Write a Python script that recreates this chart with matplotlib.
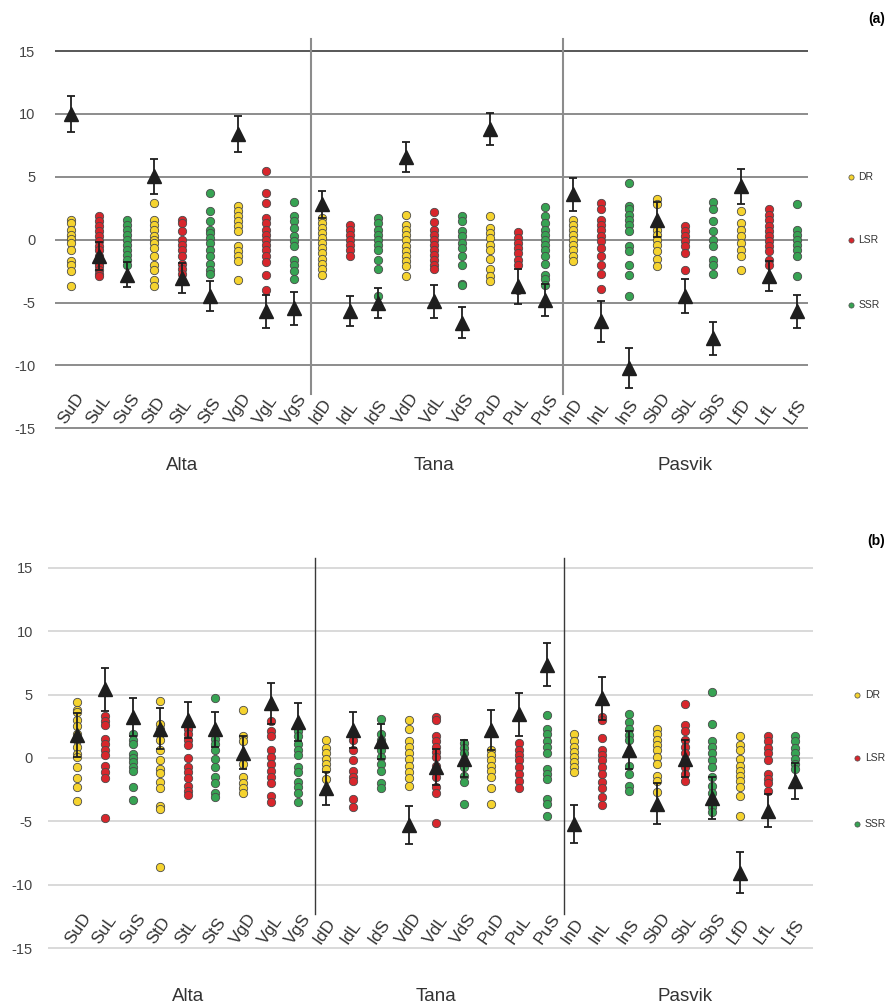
import matplotlib
matplotlib.use("Agg")
import matplotlib.pyplot as plt
import matplotlib.transforms as mtransforms

plt.rcParams['font.family'] = ['Liberation Sans', 'DejaVu Sans']
plt.rcParams['axes.unicode_minus'] = False

# --- data -------------------------------------------------------------
labels = ["SuD", "SuL", "SuS", "StD", "StL", "StS", "VgD", "VgL", "VgS",
          "IdD", "IdL", "IdS", "VdD", "VdL", "VdS", "PuD", "PuL", "PuS",
          "InD", "InL", "InS", "SbD", "SbL", "SbS", "LfD", "LfL", "LfS"]
groups = ["Alta", "Tana", "Pasvik"]
group_size = 9

series_names = ["DR", "LSR", "SSR"]
series_colors = ["#f5d32f", "#d8262c", "#37a353"]
series_key = {"D": 0, "L": 1, "S": 2}

a_dots = [
    [1.6, 1.3, 0.8, 0.4, 0.05, -0.3, -0.8, -1.7, -2.0, -2.5, -3.7],
    [1.9, 1.5, 1.1, 0.7, 0.3, -0.1, -0.5, -0.8, -1.3, -1.9, -2.1, -2.4, -2.7, -2.9],
    [1.6, 1.2, 0.8, 0.4, 0.0, -0.4, -0.8, -1.2, -1.6, -2.0],
    [2.9, 1.6, 1.2, 0.8, 0.3, 0.0, -0.3, -0.7, -1.3, -2.0, -2.4, -3.2, -3.7],
    [1.6, 1.3, 0.7, 0.0, -0.4, -0.8, -1.3, -1.9, -2.3, -2.7],
    [3.7, 2.3, 1.5, 0.8, 0.5, 0.1, -0.3, -0.8, -1.3, -1.9, -2.4, -2.7],
    [2.7, 2.3, 1.9, 1.5, 1.1, 0.7, -0.5, -0.9, -1.3, -1.7, -3.2],
    [5.5, 3.7, 2.9, 1.7, 1.3, 0.8, 0.4, 0.0, -0.4, -0.8, -1.3, -1.8, -2.8, -4.0],
    [3.0, 1.9, 1.5, 0.9, 0.3, -0.1, -0.5, -1.6, -2.0, -2.5, -3.1],
    [1.7, 1.3, 0.9, 0.5, 0.1, -0.3, -0.7, -1.1, -1.5, -1.9, -2.3, -2.8],
    [1.2, 0.8, 0.4, 0.0, -0.4, -0.8, -1.3],
    [1.7, 1.3, 0.8, 0.4, 0.0, -0.4, -0.8, -1.6, -2.3, -4.5],
    [2.0, 1.2, 0.8, 0.4, 0.0, -0.5, -0.9, -1.3, -1.7, -2.1, -2.9],
    [2.2, 1.4, 0.8, 0.4, 0.0, -0.4, -0.8, -1.2, -1.6, -2.0, -2.3],
    [1.9, 1.5, 0.7, 0.3, -0.3, -0.7, -1.3, -2.0, -3.5, -3.6],
    [1.9, 0.9, 0.5, 0.1, -0.4, -0.8, -1.5, -2.3, -2.9, -3.3],
    [0.6, 0.1, -0.3, -0.7, -1.1, -1.6, -2.0, -4.0],
    [2.6, 1.9, 1.3, 0.8, 0.4, 0.0, -0.4, -0.8, -1.3, -1.9, -2.8, -3.1, -3.6],
    [1.6, 1.2, 0.8, 0.4, 0.0, -0.4, -0.8, -1.3, -1.7],
    [2.9, 2.4, 1.6, 1.2, 0.8, 0.3, -0.1, -0.7, -1.3, -2.0, -2.7, -3.9],
    [4.5, 2.7, 2.4, 2.0, 1.6, 1.2, 0.7, -0.5, -0.9, -2.0, -2.8, -4.5],
    [3.2, 2.8, 0.8, 0.4, 0.0, -0.4, -0.9, -1.5, -2.1],
    [1.1, 0.7, 0.3, -0.1, -0.5, -1.1, -2.4],
    [3.0, 2.4, 1.5, 0.7, 0.0, -0.5, -1.6, -2.0, -2.7],
    [2.3, 1.3, 0.8, 0.3, -0.3, -0.8, -1.3, -2.4],
    [2.4, 2.0, 1.6, 1.1, 0.7, 0.3, -0.1, -0.5, -0.9, -1.6, -2.0],
    [2.8, 0.8, 0.4, 0.0, -0.4, -0.8, -1.3, -2.9],
]
a_mean = [10.0, -1.3, -2.8, 5.05, -3.05, -4.5, 8.4, -5.7, -5.45,
          2.8, -5.7, -5.05, 6.6, -4.9, -6.6, 8.8, -3.7, -4.8,
          3.6, -6.5, -10.2, 1.6, -4.5, -7.85, 4.25, -2.9, -5.7]
a_err = [1.4, 1.1, 1.0, 1.4, 1.2, 1.2, 1.4, 1.3, 1.3,
         1.1, 1.2, 1.2, 1.2, 1.3, 1.25, 1.25, 1.4, 1.3,
         1.3, 1.6, 1.6, 1.4, 1.35, 1.3, 1.4, 1.2, 1.3]

b_dots = [
    [4.4, 3.8, 3.6, 3.0, 2.5, 1.9, 1.4, 0.9, 0.3, 0.1, -0.7, -1.6, -2.3, -3.4],
    [3.3, 2.9, 2.6, 1.5, 1.1, 0.6, 0.2, -0.6, -1.1, -1.6, -4.7],
    [1.9, 1.4, 1.1, 0.3, 0.0, -0.3, -0.7, -1.0, -2.3, -3.3],
    [4.5, 2.7, 2.3, 1.9, 1.4, 0.6, -0.2, -0.9, -1.2, -1.9, -2.4, -3.8, -4.0, -8.6],
    [2.3, 1.9, 1.4, 1.0, 0.0, -0.7, -1.1, -1.6, -2.2, -2.6, -2.9],
    [4.7, 1.5, 1.1, 0.6, -0.05, -0.7, -1.5, -2.0, -2.8, -3.1],
    [3.8, 1.7, 1.3, -0.45, -1.5, -2.0, -2.4, -2.8],
    [2.9, 2.1, 1.7, 0.6, 0.1, -0.45, -1.0, -1.5, -2.0, -3.0, -3.5],
    [2.1, 1.7, 1.1, 0.6, 0.2, -0.7, -1.1, -1.9, -2.3, -2.8, -3.5],
    [1.4, 0.75, 0.35, -0.05, -0.45, -0.85, -1.65, -2.6],
    [1.4, 0.6, -0.2, -1.0, -1.5, -1.8, -3.2, -3.9],
    [3.1, 1.9, 1.4, 0.6, 0.1, -0.45, -1.0, -2.0, -2.4],
    [3.0, 2.25, 1.3, 0.9, 0.35, -0.05, -0.6, -1.1, -1.6, -2.2],
    [3.25, 3.0, 1.7, 1.3, 0.9, 0.5, 0.1, -0.6, -1.5, -2.3, -2.8, -5.1],
    [1.2, 0.75, 0.35, -0.7, -1.4, -1.9, -3.6],
    [0.6, 0.2, -0.2, -0.6, -1.0, -1.5, -2.4, -3.6],
    [1.15, 0.6, 0.2, -0.2, -0.7, -1.25, -1.8, -2.4],
    [3.4, 2.3, 1.9, 1.3, 0.9, 0.35, -0.85, -1.25, -1.65, -3.2, -3.6, -4.6],
    [1.9, 1.3, 0.9, 0.5, 0.1, -0.3, -0.7, -1.1],
    [3.25, 3.0, 1.6, 0.6, 0.2, -0.2, -0.7, -1.25, -1.9, -2.4, -3.1, -3.75],
    [3.5, 2.85, 2.3, 1.8, 1.4, 0.35, -0.6, -1.25, -2.2, -2.6],
    [2.3, 1.9, 1.4, 1.0, 0.6, 0.1, -0.45, -1.4, -1.8, -2.7],
    [4.25, 2.6, 2.1, 1.4, 0.9, 0.35, -0.2, -0.7, -1.25, -1.8],
    [5.2, 2.7, 1.3, 0.9, 0.35, -0.2, -0.7, -1.5, -2.2, -2.8, -3.9, -4.3],
    [1.7, 1.0, 0.6, -0.05, -0.6, -1.0, -1.4, -1.8, -2.3, -3.0, -4.55],
    [1.7, 1.3, 0.75, 0.35, -0.2, -1.25, -1.65, -2.0, -2.6],
    [1.7, 1.3, 0.75, 0.35, -0.05, -0.45, -0.85],
]
b_mean = [1.8, 5.4, 3.25, 2.3, 3.0, 2.25, 0.4, 4.3, 2.85,
          -2.4, 2.2, 1.3, -5.3, -0.7, -0.05, 2.2, 3.45, 7.35,
          -5.2, 4.7, 0.6, -3.6, -0.05, -3.15, -9.05, -4.15, -1.8]
b_err = [1.75, 1.7, 1.5, 1.6, 1.4, 1.35, 1.3, 1.6, 1.5,
         1.3, 1.4, 1.4, 1.5, 1.4, 1.45, 1.55, 1.7, 1.7,
         1.5, 1.7, 1.5, 1.6, 1.45, 1.65, 1.6, 1.3, 1.4]

yticks = [-15, -10, -5, 0, 5, 10, 15]


def draw_panel(ax, dots, means, errs, grid_color, top_color, sep_color, sep_lw,
               sep_top, ytick_pad, group_y, legend_x):
    ax.set_yticks(yticks)
    ax.set_xticks([])
    for s in ax.spines.values():
        s.set_visible(False)
    ax.tick_params(axis='y', length=0, pad=ytick_pad, labelsize=10.5, labelcolor='#444444')
    for y in yticks:
        ax.axhline(y, color=top_color if y == 15 else grid_color, lw=1.1, zorder=0)

    # group separators
    for g in range(1, len(groups)):
        xs = g * group_size - 1 + 0.62
        ax.plot([xs, xs], [-12.3, sep_top], color=sep_color, lw=sep_lw, zorder=1)

    # individual values
    for i, vals in enumerate(dots):
        c = series_colors[series_key[labels[i][-1]]]
        ax.scatter([i] * len(vals), vals, s=36, color=c, edgecolor='#4a4a4a',
                   linewidth=0.6, zorder=2)

    # means with error bars
    ax.errorbar(range(len(labels)), means, yerr=errs, fmt='^', color='#1e1e1e',
                ms=10.5, capsize=3, elinewidth=1.3, capthick=1.3, zorder=4)

    # category labels inside the plot
    for i, lab in enumerate(labels):
        ax.text(i - 0.2, -14.75, lab, rotation=55, rotation_mode='anchor',
                ha='left', va='baseline', fontsize=12.5, color='#333333')

    trans = mtransforms.blended_transform_factory(ax.transData, ax.transAxes)
    for g, name in enumerate(groups):
        cx = g * group_size + (group_size - 1) / 2
        ax.text(cx, group_y, name, transform=trans, ha='center', va='top',
                fontsize=13.5, color='#333333')

    # legend
    ltrans = mtransforms.blended_transform_factory(ax.transAxes, ax.transData)
    for k, (name, c) in enumerate(zip(series_names, series_colors)):
        ly = [5, 0, -5.2][k]
        ax.scatter([legend_x], [ly], s=14, color=c, edgecolor='#4a4a4a', linewidth=0.5,
                   transform=ltrans, clip_on=False)
        ax.text(legend_x + 0.01, ly, name, transform=ltrans, ha='left', va='center',
                fontsize=7.5, color='#333333')


fig = plt.figure(figsize=(8.93, 10.08), dpi=100)

ax_a = fig.add_axes([0.0616, 0.5714, 0.8432, 0.3929])
ax_a.set_xlim(-0.56, 26.4)
ax_a.set_ylim(-15.3, 16.2)
draw_panel(ax_a, a_dots, a_mean, a_err, grid_color='#6e6e6e', top_color='#2a2a2a',
           sep_color='#8c8c8c', sep_lw=1.5, sep_top=16.0, ytick_pad=14,
           group_y=-0.063, legend_x=1.057)

ax_b = fig.add_axes([0.0538, 0.0556, 0.8567, 0.3938])
ax_b.set_xlim(-1.06, 26.65)
ax_b.set_ylim(-15.3, 16.0)
draw_panel(ax_b, b_dots, b_mean, b_err, grid_color='#d0d0d0', top_color='#d0d0d0',
           sep_color='#3a3a3a', sep_lw=1.0, sep_top=15.8, ytick_pad=11,
           group_y=-0.091, legend_x=1.0575)

fig.text(0.982, 1 - 19 / 1008, "(a)", ha='center', va='center', fontweight='bold', fontsize=10)
fig.text(0.981, 1 - 541 / 1008, "(b)", ha='center', va='center', fontweight='bold', fontsize=10)

fig.savefig("out.png", dpi=100)
